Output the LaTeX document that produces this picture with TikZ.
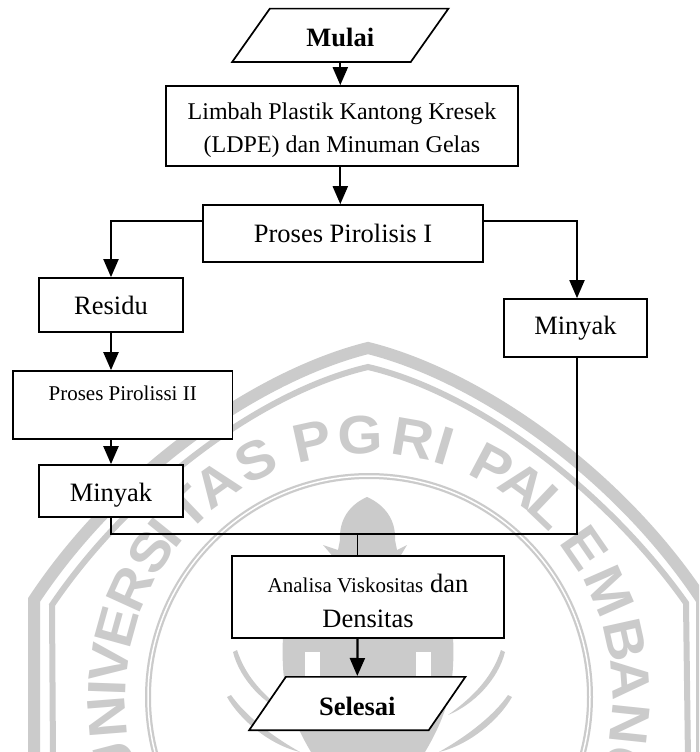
\documentclass[tikz,border=0pt]{standalone}
\usepackage{fontspec}
\setmainfont{Liberation Serif}
\newfontfamily\wmfont[FakeStretch=1.07]{Liberation Sans}
\usetikzlibrary{arrows.meta,shapes.geometric}
\definecolor{wmgray}{HTML}{CBCBCB}
\newcommand{\toppad}[1]{\rule{0pt}{#1pt}}
\tikzset{
  boxnode/.style={draw=black,fill=white,line width=1.7pt,rectangle,inner sep=0pt,align=center,text=black},
  ionode/.style={draw=black,fill=white,line width=1.7pt,trapezium,trapezium left angle=51,trapezium right angle=129,
    trapezium stretches=true,inner sep=0pt,align=center,font=\fontsize{26.5}{30}\selectfont\bfseries},
  flowarrow/.style={draw=black,line width=2.2pt,-{Triangle[width=15pt,length=18pt]}},
  flowline/.style={draw=black,line width=1.7pt},
  wmband/.style={draw=wmgray,line join=miter},
  wmfill/.style={fill=wmgray,draw=none},
  wmletter/.style={text=wmgray,font=\wmfont\bfseries\fontsize{54}{54}\selectfont,inner sep=0pt}
}
\begin{document}
\begin{tikzpicture}[x=1pt,y=-1pt]
\useasboundingbox (0,0) rectangle (699,752);
\fill[white] (0,0) rectangle (699,752);
\begin{scope}
\clip (0,0) rectangle (699,752);
% watermark
\draw[wmband,line width=12pt] (34,760) -- (34,600) .. controls (120,470) and (260,375) .. (368,348)
   .. controls (476,375) and (616,470) .. (702,600) -- (702,760);
\draw[wmband,line width=6pt] (53,760) -- (52,605) .. controls (130,490) and (260,392) .. (368,367)
   .. controls (476,392) and (606,490) .. (686,603) -- (688,760);
\draw[wmgray,line width=6pt] (369,697) circle (221);
\draw[white,line width=1.5pt] (369,697) circle (221);
\foreach \c/\a [count=\i] in {U/194.5,N/184.5,I/178,V/172.5,E/164.5,R/155.5,S/146.5,I/141.2,T/133.7,A/125.6,S/115.6,
  P/102.4,G/92,R/80.2,I/73.3,P/62,A/54,L/46.4,E/34.6,M/23.8,B/12.5,A/4,N/-6,G/-16}
  \node[wmletter,rotate=\a-90] (wm\i) at ({369+262*cos(\a)},{697-262*sin(\a)}) {\c};
% flame
\fill[wmfill] (367,497) .. controls (385,505) and (396,520) .. (395,540) -- (397,550) -- (407,545) -- (398,560) -- (336,560)
  -- (323,545) -- (338,550) -- (340,540) .. controls (339,520) and (349,505) .. (367,497) -- cycle;
% body
\fill[wmfill] (283,636) -- (453,636) .. controls (455,680) and (450,710) .. (425,752) -- (311,752)
  .. controls (286,710) and (281,680) .. (283,636) -- cycle;
\fill[white] (305,652) rectangle (320,700);
\fill[white] (416,652) rectangle (431,700);
% crescents
\fill[wmfill] (233,652) .. controls (240,680) and (265,705) .. (290,715) .. controls (262,695) and (245,675) .. (237,650) -- cycle;
\fill[wmfill] (505,652) .. controls (498,680) and (473,705) .. (448,715) .. controls (476,695) and (493,675) .. (501,650) -- cycle;
\fill[wmfill] (227,697) .. controls (240,720) and (270,745) .. (300,752) .. controls (270,735) and (245,715) .. (231,695) -- cycle;
\fill[wmfill] (512,697) .. controls (499,720) and (469,745) .. (439,752) .. controls (469,735) and (494,715) .. (508,695) -- cycle;
\end{scope}
% nodes
\node[ionode,minimum width=216.5pt,minimum height=53.3pt] (mulai) at (340.3,35.3) {\toppad{22}Mulai};
\node[boxnode,minimum width=352pt,minimum height=80pt,font=\fontsize{24}{33}\selectfont] (limbah) at (342,126)
  {\toppad{24.4}Limbah Plastik Kantong Kresek\\(LDPE) dan Minuman Gelas};
\node[boxnode,minimum width=280pt,minimum height=57pt,font=\fontsize{26.5}{30}\selectfont] (pir1) at (343,233.5) {Proses Pirolisis I};
\node[boxnode,minimum width=144pt,minimum height=54pt,font=\fontsize{26.5}{30}\selectfont] (residu) at (111,305) {Residu};
\node[boxnode,minimum width=143pt,minimum height=58pt,font=\fontsize{26.5}{30}\selectfont] (minyakr) at (575.5,328) {Minyak};
\node[boxnode,minimum width=219.5pt,minimum height=68pt,font=\fontsize{21}{24}\selectfont] (pir2) at (122.7,405) {Proses Pirolissi II\\~};
\node[boxnode,minimum width=144pt,minimum height=52pt,font=\fontsize{26.5}{30}\selectfont] (minyakl) at (111,491) {\toppad{26}Minyak};
\node[boxnode,minimum width=272pt,minimum height=82pt,font=\fontsize{26.5}{35}\selectfont] (analisa) at (368,597)
  {\toppad{26}{\fontsize{21}{35}\selectfont Analisa Viskositas} dan\\Densitas};
\node[ionode,minimum width=216.5pt,minimum height=53.3pt] (selesai) at (357.3,703.5) {\toppad{24}Selesai};
% connectors
\draw[flowarrow] (mulai.south) -- (mulai.south |- limbah.north);
\draw[flowarrow] (limbah.south -| mulai.south) -- (mulai.south |- pir1.north);
\draw[flowarrow,line width=1.9pt] ([yshift=12.8pt]pir1.west) -| (residu.north);
\draw[flowarrow,line width=1.9pt] ([yshift=12.8pt]pir1.east) -| ([xshift=1.5pt]minyakr.north);
\draw[flowarrow] (residu.south) -- (residu.south |- pir2.north);
\draw[flowarrow] (residu.south |- pir2.south) -- (minyakl.north);
\coordinate (join) at (357.5,534);
\draw[flowline] (minyakl.south) |- (join) -| ([xshift=1.5pt]minyakr.south);
\draw[flowline] (join) -- (join |- analisa.north);
\draw[flowarrow] (join |- analisa.south) -- (selesai.north);
\end{tikzpicture}
\end{document}
